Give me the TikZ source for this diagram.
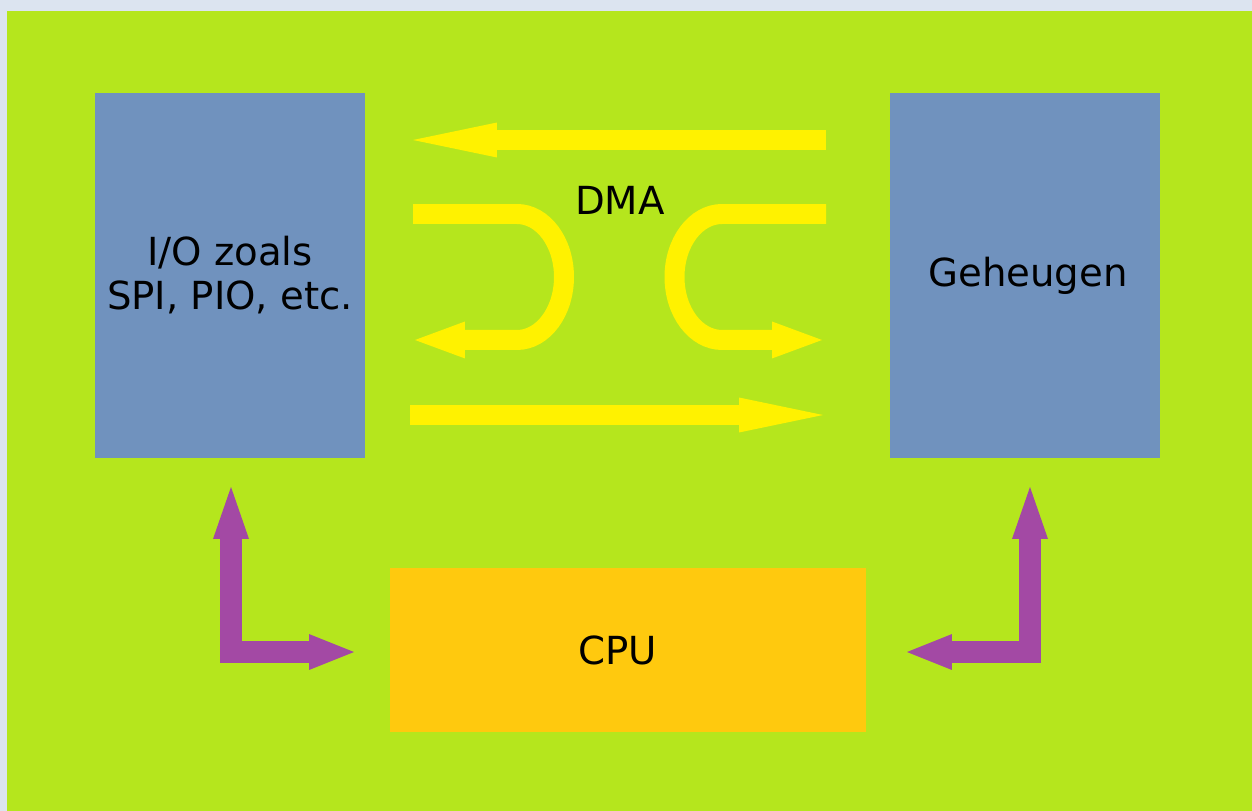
\documentclass[tikz,border=0pt]{standalone}
\usepackage{fontspec}
\setmainfont{DejaVu Sans}
\usetikzlibrary{arrows.meta}
\definecolor{pagegray}{HTML}{DCE4F0}
\definecolor{limegreen}{HTML}{B5E61D}
\definecolor{boxblue}{HTML}{7092BE}
\definecolor{cpuorange}{HTML}{FFC90E}
\definecolor{dmayellow}{HTML}{FFF200}
\definecolor{buspurple}{HTML}{A349A4}

\begin{document}
\begin{tikzpicture}[
      x=0.02cm,y=-0.02cm,
      block/.style={minimum width=5.4cm,minimum height=7.3cm,inner sep=0pt,
                    fill=boxblue,align=center,font=\fontsize{22}{25}\selectfont},
      cpubox/.style={minimum width=9.52cm,minimum height=3.28cm,inner sep=0pt,
                     fill=cpuorange,font=\fontsize{22}{25}\selectfont},
      dma/.style={line width=0.4cm,dmayellow,
                  -{Triangle[length=1.68cm,width=0.7cm,line width=0pt]}},
      turn/.style={line width=0.4cm,dmayellow,
                   -{Triangle[length=1.0cm,width=0.74cm,line width=0pt]}},
      bus/.style={line width=0.44cm,buspurple,
                  {Triangle[length=0.9cm,width=0.72cm,line width=0pt]}-{Triangle[length=1.04cm,width=0.72cm,line width=0pt]}}
    ]
    \useasboundingbox (0,0) rectangle (1252,811);
    \fill[pagegray] (0,0) rectangle (1252,811);
    \fill[limegreen] (7,11) rectangle (1252,811);

    \node[block] (io) at (230,275.5) {I/O zoals\\SPI, PIO, etc.};
    \node[block] (mem) at (1025,275.5) {\hspace*{0.12cm}Geheugen};
    \node[cpubox] (cpu) at (628,650) {CPU\hspace*{0.4cm}};
    \node[font=\fontsize{22}{25}\selectfont] (dmalabel) at (620,200) {DMA};

    % DMA transfers
    \coordinate (toptail) at (826,140);
    \coordinate (toptip) at (413,140);
    \coordinate (bottail) at (410,415);
    \coordinate (bottip) at (823,415);
    \draw[dma] (toptail) -- (toptip);
    \draw[dma] (bottail) -- (bottip);
    \coordinate (ltail) at (413,214);
    \coordinate (ltip) at (415,340);
    \draw[turn] (ltail) -- (517,214)
      arc[start angle=90,end angle=-90,x radius=0.94cm,y radius=1.26cm] -- (ltip);
    \coordinate (rtail) at (826,214);
    \coordinate (rtip) at (822,340);
    \draw[turn] (rtail) -- (722,214)
      arc[start angle=90,end angle=270,x radius=0.95cm,y radius=1.26cm] -- (rtip);

    % CPU bus
    \coordinate (ioup) at (231,487);
    \coordinate (cpuleft) at (354,652);
    \coordinate (memup) at (1030,487);
    \coordinate (cpuright) at (907,652);
    \draw[bus] (cpuleft) -- (231,652) -- (ioup);
    \draw[bus] (cpuright) -- (1030,652) -- (memup);
  \end{tikzpicture}
\end{document}
